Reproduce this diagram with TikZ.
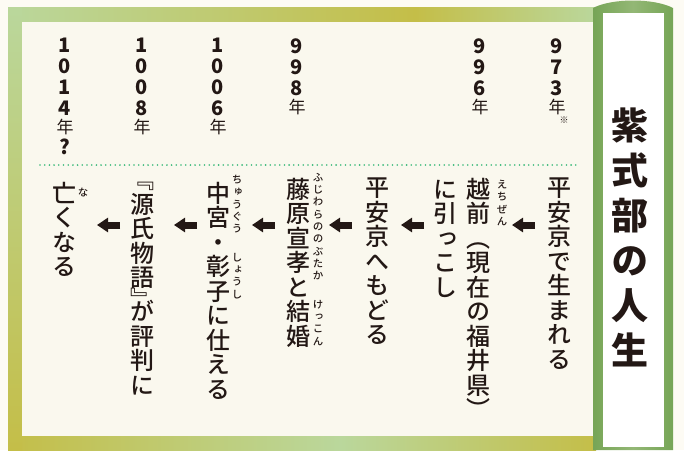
\documentclass[tikz,border=0pt]{standalone}
\usepackage{fontspec}
\newfontfamily\jp[RawFeature=+vert]{Noto Sans CJK JP}
\newfontfamily\jpm[RawFeature=+vert]{Noto Sans CJK JP Medium}
\usetikzlibrary{arrows.meta,positioning}
\definecolor{ink}{HTML}{231815}
\definecolor{paper}{HTML}{FAF8EE}
\definecolor{bgpaper}{HTML}{FDFBF4}
\definecolor{framegreen}{HTML}{BAD79C}
\definecolor{frameolive}{HTML}{C4BE48}
\definecolor{panelgreen}{HTML}{76A556}
\definecolor{panellight}{HTML}{93B775}
\definecolor{dotgreen}{HTML}{38B878}
\newcommand\nen{{\jp\mdseries\fontsize{17}{21}\selectfont 年}}

\begin{document}
\begin{tikzpicture}[x=1pt,y=-1pt,
        event/.style={font=\jpm\fontsize{24}{24.5}\selectfont, text=ink, align=center, anchor=north, inner sep=0pt},
        ruby/.style={font=\jpm\fontsize{10.5}{12.3}\selectfont, text=ink, align=center, anchor=north, inner sep=0pt},
        year/.style={font=\jp\bfseries\fontsize{20}{21}\selectfont, text=ink, align=center, anchor=north, inner sep=0pt},
        title/.style={font=\jp\bfseries\fontsize{37}{45}\selectfont, text=ink, align=center, anchor=north, inner sep=0pt},
        larrow/.style={line width=7pt, draw=ink, -{Triangle[length=11pt,width=14pt]}}
        ]
    \useasboundingbox (0,0) rectangle (684,450);
    \fill[bgpaper] (0,0) rectangle (684,450);

    % frame round the timeline
    \shade[left color=framegreen, right color=frameolive] (8,7) rectangle (415,22);
    \shade[left color=frameolive, right color=framegreen] (415,7) rectangle (596,22);
    \shade[left color=frameolive, right color=framegreen] (8,436) rectangle (340,450);
    \shade[left color=framegreen, right color=frameolive] (340,436) rectangle (596,450);
    \shade[top color=framegreen, bottom color=frameolive] (8,7) rectangle (22,450);
    \fill[paper] (22,22) rectangle (596,436);

    % title panel
    \shade[left color=panelgreen, right color=panelgreen, middle color=panellight]
        (593,450) -- (593,8) .. controls (612,-2) and (654,-2) .. (673,8) -- (673,450) -- cycle;
    \fill[white] (603,13) rectangle (664,447);
    \node[title] (ttl) at (630,108) {紫\\式\\部\\の\\人\\生};

    % years
    \foreach \yx/\ytext [count=\i] in {557/{9\\7\\3\\[-3pt]\nen}, 480/{9\\9\\6\\[-3pt]\nen},
            297/{9\\9\\8\\[-3pt]\nen}, 218/{1\\0\\0\\6\\[-3pt]\nen},
            142/{1\\0\\0\\8\\[-3pt]\nen}, 65/{1\\0\\1\\4\\[-3pt]\nen\\?}} {
        \node[year] (yr\i) at (\yx,38) {\ytext};
    }
    \node[ruby, font=\jp\fontsize{9}{9}\selectfont] (kome) at (564,117) {※};

    \coordinate (dl) at (40,165);
    \coordinate (dr) at (579,165);
    \draw[dotgreen, line width=1.8pt, line cap=round, dash pattern=on 0pt off 4.7pt] (dl) -- (dr);

    % events
    \node[event] (ev1) at (559,178) {平\\安\\京\\で\\生\\ま\\れ\\る};
    \node[event] (ev2) at (478,178) {越\\前\\（\\現\\在\\の\\福\\井\\県\\）};
    \node[event] (ev2b) at (445,180) {に\\引\\っ\\こ\\し};
    \node[event] (ev3) at (377,178) {平\\安\\京\\へ\\も\\ど\\る};
    \node[event] (ev4) at (298,178) {藤\\原\\宣\\孝\\と\\結\\婚};
    \node[event] (ev5) at (218,182) {中\\宮\\・\\彰\\子\\に\\仕\\え\\る};
    \node[event] (ev6) at (142,182) {『\\源\\氏\\物\\語\\[-3pt]』\\[-12pt]が\\評\\判\\に};
    \node[event] (ev7) at (64,182) {亡\\く\\な\\る};

    % readings
    \node[ruby] (rb2) at (502,180) {え\\ち\\ぜ\\ん};
    \node[ruby] (rb4a) at (318,173) {ふ\\じ\\わ\\ら\\の\\の\\ぶ\\た\\か};
    \node[ruby] (rb4b) at (318,300) {け\\っ\\こ\\ん};
    \node[ruby] (rb5a) at (237,175) {ち\\ゅ\\う\\ぐ\\う};
    \node[ruby] (rb5b) at (237,253) {し\\ょ\\う\\し};
    \node[ruby] (rb7) at (83,188) {な};

    % arrows from one step to the next
    \foreach \ax [count=\i] in {535,424,352,275,197,120} {
        \coordinate (as\i) at (\ax,225);
        \coordinate (ae\i) at (\ax-23,225);
        \draw[larrow] (as\i) -- (ae\i);
    }
\end{tikzpicture}
\end{document}
